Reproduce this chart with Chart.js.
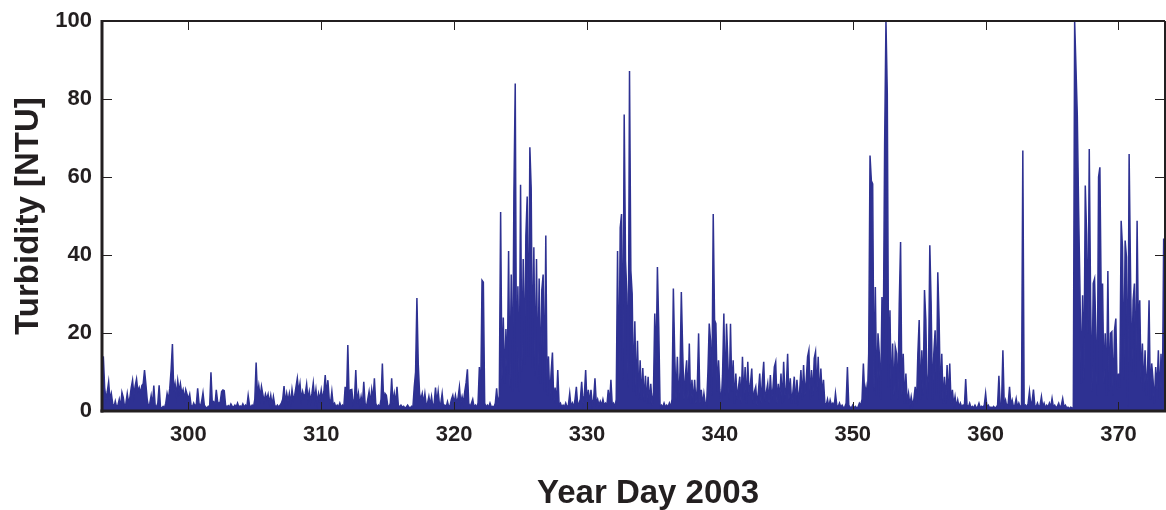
<!DOCTYPE html>
<html>
<head>
<meta charset="utf-8">
<script src="https://cdn.jsdelivr.net/npm/chart.js@4/dist/chart.umd.min.js"></script>
<style>
  html, body { margin: 0; padding: 0; background: #fff; }
</style>
</head>
<body>
<canvas id="turbChart" width="1166" height="510"></canvas>
<script>
// turbidity samples, one every 0.1 day, split by ten-day block
const STEP = 0.1;

const turb293 = [3, 14, 6, 3, 5,
  7.5, 3, 4.5, 2, 1, 2.5, 1, 1.5, 3, 1,
  4.8, 3.5, 1, 2, 4.5, 2, 3.5, 6, 7.9, 4,
  6.5, 8.2, 5, 6, 4.5, 6.5, 7, 10.5, 7, 3,
  1, 2, 4, 1.5, 6.5, 1.5, 1, 2, 6.6, 1,
  0.8, 1.2, 0.8, 2, 4.5, 3, 5.8, 10.5, 17.2, 5,
  7, 4, 7.8, 5, 7, 4.5, 5.5, 3, 5.5, 4.3];

const turb300 = [3, 4.3, 1.5, 1, 2, 1.2, 1.8, 5.8, 2, 1,
  2.5, 4.7, 1.5, 1, 0.8, 1.2, 1, 9.9, 2, 2.4,
  1.5, 5.4, 2.4, 1.8, 2.4, 5, 5.4, 5.2, 1.5, 1,
  1.4, 1, 1.8, 1.2, 1, 1.5, 1, 2, 1, 1.3,
  1, 1.8, 1, 1.5, 1, 4, 1.5, 1, 1.5, 1,
  3, 12.4, 4, 6.5, 3.5, 6.3, 4.3, 2.5, 4.3, 3,
  4.3, 2, 4, 1.5, 3.7, 1.5, 1, 1.5, 1, 1.5,
  2, 3, 6.4, 2, 4.5, 2.5, 4.5, 2, 5.5, 3,
  4, 6.2, 8.4, 5, 7.1, 3, 5, 3.5, 4.5, 6.9,
  3, 5, 2.5, 4.5, 7.2, 3, 5.5, 2, 4.5, 3];

const turb310 = [5.4, 3, 5, 9.2, 4, 7.9, 3, 2, 5, 1.5,
  2, 1, 1.5, 1, 2, 1, 1.5, 1, 6.2, 3,
  16.9, 3, 5.4, 5.5, 2, 3, 10.5, 2, 4.5, 1.5,
  3.7, 1.5, 7.5, 2, 1, 3, 5, 2, 5.5, 3,
  8.4, 2, 1, 1.5, 1, 3, 12.2, 2, 4.5, 4,
  1.5, 1, 2, 8.4, 2, 4.5, 2, 6.2, 1.5, 1,
  1.5, 1, 1.2, 0.8, 1, 1.5, 1, 0.8, 1.2, 1,
  6.2, 10, 29, 12.2, 4.5, 3, 4.5, 2, 4.5, 1.5,
  2, 3.7, 1.5, 3.7, 1, 2, 6, 2, 5, 1.5,
  2, 4.5, 1, 1.5, 1, 2.4, 1, 1.5, 3, 4];

const turb320 = [2, 4, 2, 3.5, 6.2, 2, 3.7, 2, 5, 7.2,
  10.7, 2, 1, 2, 3, 1, 1.5, 1, 2, 11.3,
  3, 33.5, 33, 2, 1, 1.5, 1, 2, 1, 1.2,
  1, 2, 5.8, 1.5, 4, 51, 8, 24, 7, 21,
  9, 41, 6, 35, 5, 56, 84, 6, 32, 5,
  58, 10, 39, 12, 45, 55, 14, 67.6, 57, 11,
  42, 9, 39, 8, 34, 7, 31, 35, 5, 45,
  4, 14, 3, 10, 15, 2, 6, 2, 10.5, 1.5,
  2, 1, 1.5, 1, 2, 1, 1.5, 4.5, 1, 2,
  1, 3, 6.2, 1.5, 2, 3, 7.5, 2, 4, 10.5];

const turb330 = [2, 5.4, 2, 5.4, 1.5, 3, 8.4, 2, 3, 1.5,
  2.5, 1.5, 3, 1.5, 2, 1.5, 5.4, 2, 8, 1.5,
  2, 1, 3, 41, 5, 47, 50.5, 8, 76, 38.6,
  30, 6, 87.2, 36, 30, 5, 23, 4, 18, 3,
  13, 3, 11, 2.5, 9, 2, 8.8, 2, 7, 1.5,
  4.5, 25, 12, 36.9, 21.6, 1, 1.5, 1, 2, 1,
  1.5, 1, 2, 1, 3, 31.4, 14.7, 3, 13.9, 2.5,
  10, 30.5, 15.6, 3, 9, 13, 3, 17.3, 2, 8,
  2, 8, 2, 6.2, 19.9, 2, 5.4, 1.5, 4.5, 2,
  1.5, 10, 22.4, 18, 4, 50.5, 23.3, 22.4, 5, 13];

const turb340 = [5.4, 2, 9, 25, 4, 22.4, 13, 3, 22.4, 5,
  13, 2, 9.6, 3, 6, 8.8, 2, 13.9, 3, 11.3,
  2, 12.6, 4, 7, 10.9, 2, 5, 6.2, 1.5, 5,
  9.6, 2, 8, 12.6, 2.5, 5, 7, 2, 9.2, 3,
  6, 11.3, 12.6, 2, 7, 3, 9.6, 2, 12.6, 4,
  6, 14.7, 3, 8.4, 2, 5, 8.8, 2, 8, 3,
  5, 10.5, 3, 11.8, 4, 8, 13.9, 15.6, 3, 10.5,
  4, 13.5, 15.2, 5, 13.9, 3, 10.9, 4, 8, 2,
  1.5, 3, 1, 2.8, 1.5, 2, 1, 4.5, 1.5, 1,
  2, 1, 1.5, 0.8, 1, 2, 11.3, 1.5, 1, 0.8];

const turb350 = [1.5, 0.8, 1.2, 0.8, 1, 2, 1.5, 3, 12.2, 4,
  6.2, 3, 14.7, 65.5, 59, 58.2, 5, 31.8, 4, 19.9,
  14.7, 3, 29.2, 18.2, 68.5, 100, 81.2, 6, 25.8, 3,
  17.3, 4, 16.5, 14.7, 3, 27.5, 43.3, 4, 14.7, 2,
  9.6, 2, 4.5, 1.5, 3.7, 1.5, 3, 6.2, 2, 14.7,
  23.3, 3, 15.6, 4, 31, 23.3, 3, 9.6, 42.5, 27.5,
  3, 14.7, 20.7, 4, 35.6, 23.3, 3, 14.7, 2, 8.8,
  2, 11.8, 3, 12.2, 2, 5.4, 1.5, 3.7, 1, 2.8,
  1, 2, 1, 1.5, 1, 8.2, 1.5, 1, 2, 0.8,
  1.2, 0.8, 1.5, 0.8, 1, 2, 0.8, 1.2, 1, 1.5];

const turb360 = [4.5, 1, 1.5, 0.8, 1, 0.8, 1.2, 0.8, 1, 1.5,
  9, 1, 2, 15.6, 1.5, 2.8, 1, 2, 6.2, 1.5,
  2.8, 1, 1.5, 3.2, 1, 2, 1, 1.5, 66.8, 1,
  1.5, 1, 2, 5, 1.5, 2.5, 5.5, 1.5, 1, 2,
  1, 1.5, 3.7, 1, 2, 0.8, 1.5, 1, 2, 1,
  3.2, 1, 1.5, 0.8, 1.2, 2, 0.8, 1.5, 3.2, 1,
  1.5, 0.8, 1, 0.6, 1, 0.8, 0.5, 100, 88, 75.7,
  51.4, 31, 7, 29.7, 8, 57.8, 45.4, 19.9, 67.2, 28.4,
  5, 32.7, 33.9, 19.9, 4, 60, 62.5, 28.4, 32.7, 7,
  19.9, 4, 35.9, 5, 19.9, 20.3, 4, 20.7, 23.7, 5.4];

const turb370 = [9.6, 6, 48.8, 42, 8, 43.7, 39.5, 1, 65.9, 36.9,
  10, 28.4, 32.7, 8, 48.8, 19.9, 28.4, 7, 17.3, 5,
  15.6, 4, 12, 28.4, 3, 12.2, 8, 2, 11.3, 5.4,
  15.6, 3, 14.7, 2, 44.2, 2];

const blocks = [[293.5, turb293], [300, turb300], [310, turb310], [320, turb320],
  [330, turb330], [340, turb340], [350, turb350], [360, turb360], [370, turb370]];

const dayTicks = [300, 310, 320, 330, 340, 350, 360, 370];
const turbTicks = [0, 20, 40, 60, 80, 100];

const ink = '#231f20';
const lineBlue = '#2e3192';
const fontFamily = "'Liberation Sans', Arial, sans-serif";
const labelFont = { family: fontFamily, size: 22, weight: 'bold' };

const points = [];
blocks.forEach(([start, vals]) => {
  vals.forEach((v, i) => points.push({ x: +(start + i * STEP).toFixed(2), y: v }));
});

// box round the plot with short inward ticks on all four sides,
// plus the x axis title, set a little right of the plot centre
const frame = {
  id: 'frame',
  afterDatasetsDraw(chart) {
    const { ctx, chartArea: a, scales: { x, y } } = chart;
    const seg = (x1, y1, x2, y2) => { ctx.beginPath(); ctx.moveTo(x1, y1); ctx.lineTo(x2, y2); ctx.stroke(); };
    ctx.save();
    ctx.strokeStyle = ink;
    ctx.lineWidth = 1;
    dayTicks.forEach(v => {
      const px = Math.round(x.getPixelForValue(v)) + 0.5;
      seg(px, a.bottom, px, a.bottom - 9);
      seg(px, a.top, px, a.top + 9);
    });
    turbTicks.forEach(v => {
      const py = Math.round(y.getPixelForValue(v)) + 0.5;
      seg(a.left, py, a.left + 10, py);
      seg(a.right, py, a.right - 10, py);
    });
    ctx.lineWidth = 2;
    seg(a.left, a.top, a.right, a.top);
    seg(a.right, a.top, a.right, a.bottom);
    ctx.lineWidth = 3;
    seg(a.left, a.top - 1, a.left, a.bottom + 1.5);
    seg(a.left - 1.5, a.bottom, a.right + 1, a.bottom);

    ctx.fillStyle = ink;
    ctx.font = `bold 33px ${fontFamily}`;
    ctx.textAlign = 'center';
    ctx.textBaseline = 'alphabetic';
    ctx.fillText('Year Day 2003', 648, 503);
    ctx.restore();
  }
};

new Chart(document.getElementById('turbChart'), {
  type: 'line',
  data: {
    datasets: [{
      data: points,
      borderColor: lineBlue,
      backgroundColor: lineBlue,
      borderWidth: 1.5,
      fill: 'origin',
      pointRadius: 0,
      tension: 0
    }]
  },
  options: {
    responsive: false,
    animation: false,
    layout: { padding: { top: 21, right: 1, left: 0, bottom: 0 } },
    plugins: { legend: { display: false }, tooltip: { enabled: false } },
    scales: {
      x: {
        type: 'linear',
        min: 293.5,
        max: 373.5,
        afterBuildTicks: s => { s.ticks = dayTicks.map(v => ({ value: v })); },
        afterFit: s => { s.height = 99; },
        grid: { display: false },
        border: { display: false },
        ticks: { color: ink, font: labelFont, padding: 3, maxRotation: 0, autoSkip: false }
      },
      y: {
        min: 0,
        max: 100,
        afterBuildTicks: s => { s.ticks = turbTicks.map(v => ({ value: v })); },
        afterFit: s => { s.width = 102; },
        grid: { display: false },
        border: { display: false },
        ticks: { color: ink, font: labelFont, padding: 2 },
        title: {
          display: true,
          text: 'Turbidity [NTU]',
          color: ink,
          font: { family: fontFamily, size: 33, weight: 'bold' },
          padding: { top: 9, bottom: 0 }
        }
      }
    }
  },
  plugins: [frame]
});
</script>
</body>
</html>
